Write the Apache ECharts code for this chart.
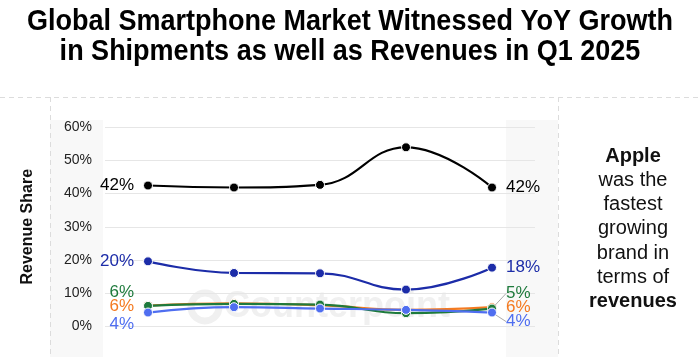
<!DOCTYPE html>
<html><head><meta charset="utf-8">
<script src="https://cdn.jsdelivr.net/npm/echarts@6/dist/echarts.min.js"></script>
<style>html,body{margin:0;padding:0;background:#fff}#c{width:700px;height:357px}</style>
</head><body><div id="c"></div>
<script>
const titleLines = ['Global Smartphone Market Witnessed YoY Growth', 'in Shipments as well as Revenues in Q1 2025'];
const categories = ['Q1 2024', 'Q2 2024', 'Q3 2024', 'Q4 2024', 'Q1 2025'];
const yTicks = [0, 10, 20, 30, 40, 50, 60];
const apple   = [42.4, 41.8, 42.6, 53.9, 41.8];
const samsung = [19.6, 16.1, 16.0, 11.1, 17.7];
const orange  = [6.3, 7.0, 6.4, 5.0, 5.8];
const green   = [6.2, 6.8, 6.6, 4.0, 5.4];
const ltblue  = [4.2, 5.8, 5.4, 5.0, 4.2];
const yAxisName = 'Revenue Share';
const noteLines = ['Apple', 'was the', 'fastest', 'growing', 'brand in', 'terms of', 'revenues'];
const noteBold = [true, false, false, false, false, false, true];

const FONT = '"Liberation Sans", Arial, sans-serif';

function mkData(vals, color, withLine) {
  return vals.map((v, i) => {
    const last = i === vals.length - 1;
    if (i !== 0 && !last) return v;
    return {
      value: v,
      label: {
        show: true,
        position: i === 0 ? 'left' : 'right',
        distance: 9,
        color: color,
        fontSize: 17,
        fontFamily: FONT,
        formatter: p => Math.round(p.value) + '%'
      },
      labelLine: { show: !!(last && withLine), lineStyle: { color: '#aaa', width: 1 } }
    };
  });
}

function mkSeries(name, vals, color, dyL, dyR, withLine, z) {
  return {
    name: name,
    type: 'line',
    data: mkData(vals, color, withLine),
    smooth: 0.45,
    symbol: 'circle',
    symbolSize: 9,
    z: z,
    lineStyle: { color: color, width: 2.2 },
    itemStyle: { color: color, borderColor: '#fff', borderWidth: 1 },
    labelLayout: p => (p.dataIndex === 0 ? { dy: dyL } : (p.dataIndex === vals.length - 1 ? { dy: dyR } : {})),
    emphasis: { disabled: true },
    animation: false
  };
}

const chart = echarts.init(document.getElementById('c'), null, { renderer: 'canvas' });

const noteGraphics = noteLines.map((t, i) => ({
  type: 'text',
  x: 633, y: 156 + i * 24.3,
  style: {
    text: t, align: 'center', verticalAlign: 'middle',
    font: (noteBold[i] ? 'bold ' : '') + '20px ' + FONT, fill: '#111'
  }
}));

const titleGraphics = titleLines.map((t, i) => ({
  type: 'text',
  x: 350, y: 22 + i * 30,
  scaleX: 0.9,
  style: {
    text: t, align: 'center', verticalAlign: 'middle',
    font: 'bold 30px ' + FONT, fill: '#000'
  }
}));

chart.setOption({
  animation: false,
  backgroundColor: '#fff',
  graphic: [
    { type: 'rect', shape: { x: 50, y: 120, width: 53, height: 240 }, style: { fill: '#f8f8f8' }, z: -10 },
    { type: 'rect', shape: { x: 506, y: 120, width: 52, height: 240 }, style: { fill: '#f8f8f8' }, z: -10 },
    { type: 'line', shape: { x1: 0, y1: 97.5, x2: 700, y2: 97.5 }, style: { stroke: '#dcdcdc', lineWidth: 1, lineDash: [5, 4] }, z: -5 },
    { type: 'line', shape: { x1: 50.5, y1: 97, x2: 50.5, y2: 357 }, style: { stroke: '#dcdcdc', lineWidth: 1, lineDash: [5, 4] }, z: -5 },
    { type: 'line', shape: { x1: 558.5, y1: 97, x2: 558.5, y2: 357 }, style: { stroke: '#dcdcdc', lineWidth: 1, lineDash: [5, 4] }, z: -5 },
    { type: 'circle', shape: { cx: 205, cy: 307, r: 14 }, style: { fill: 'none', stroke: '#f0f0f0', lineWidth: 7 }, z: -1 },
    { type: 'text', style: { text: 'Counterpoint', x: 224, y: 307, verticalAlign: 'middle', font: 'bold 36px ' + FONT, fill: '#f0f0f0' }, z: -1 },
    ...titleGraphics,
    ...noteGraphics
  ],
  grid: { left: 105, right: 165, top: 127, bottom: 30.5, containLabel: false },
  xAxis: {
    type: 'category',
    data: categories,
    boundaryGap: true,
    axisLine: { show: false }, axisTick: { show: false }, axisLabel: { show: false },
    splitLine: { show: false }
  },
  yAxis: {
    type: 'value',
    min: yTicks[0], max: yTicks[yTicks.length - 1], interval: 10,
    name: yAxisName,
    nameLocation: 'middle',
    nameRotate: 90,
    nameGap: 69,
    nameTextStyle: { fontFamily: FONT, fontWeight: 'bold', fontSize: 16, color: '#111' },
    axisLine: { show: false }, axisTick: { show: false },
    axisLabel: { formatter: v => v + '%', fontFamily: FONT, fontSize: 14, color: '#222', margin: 13 },
    splitLine: { lineStyle: { color: '#e6e6e6', width: 1 } }
  },
  series: [
    mkSeries('Apple', apple, '#000000', 0, 0, false, 5),
    mkSeries('Samsung', samsung, '#1c2ca8', 0, 0, false, 4),
    mkSeries('OPPO', orange, '#f47a20', 1, 0, false, 2),
    mkSeries('Xiaomi', green, '#1e7a3c', -14, -15, true, 3),
    mkSeries('vivo', ltblue, '#4f6ef0', 12, 9, true, 3.5)
  ]
});
</script>
</body></html>
